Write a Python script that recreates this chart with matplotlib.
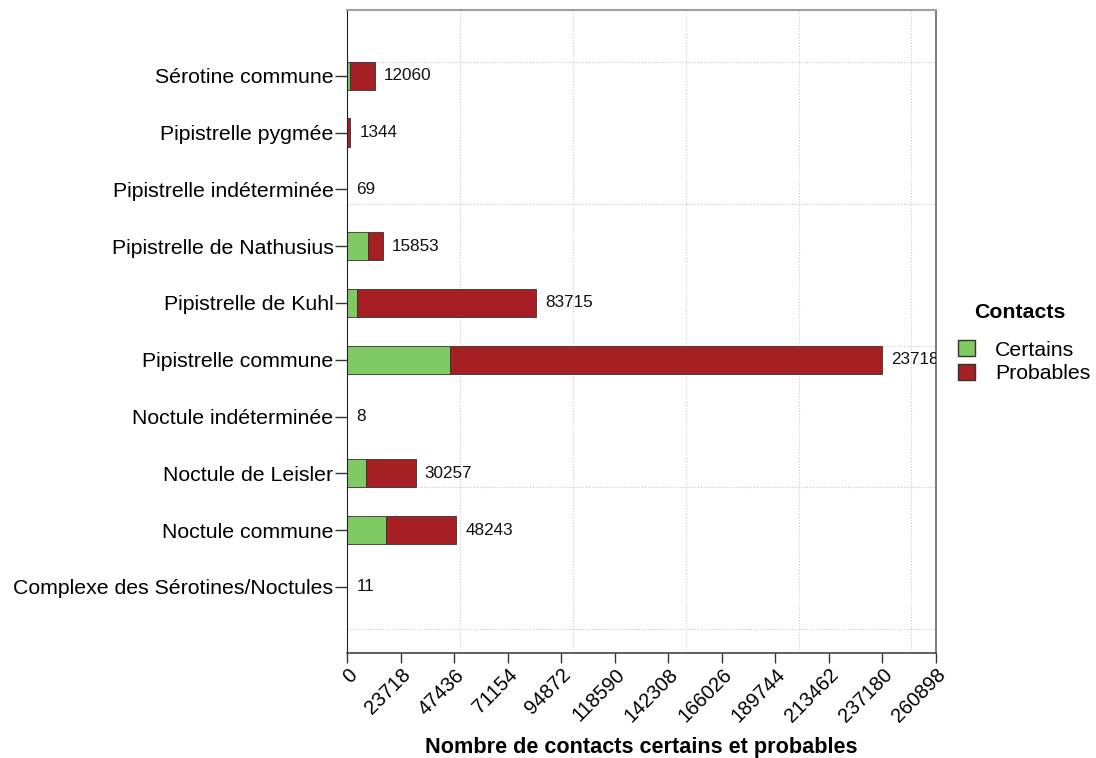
import matplotlib
matplotlib.use('Agg')
import matplotlib.pyplot as plt
from matplotlib.patches import Patch

plt.rcParams['font.family'] = ['Liberation Sans', 'DejaVu Sans']

# data (bottom -> top)
especes = ['Complexe des Sérotines/Noctules', 'Noctule commune', 'Noctule de Leisler',
           'Noctule indéterminée', 'Pipistrelle commune', 'Pipistrelle de Kuhl',
           'Pipistrelle de Nathusius', 'Pipistrelle indéterminée', 'Pipistrelle pygmée',
           'Sérotine commune']
totaux = [11, 48243, 30257, 8, 237180, 83715, 15853, 69, 1344, 12060]
certains = [5, 17020, 8290, 3, 45700, 4430, 9040, 20, 60, 1100]
probables = [t - c for t, c in zip(totaux, certains)]

pas = 23718
ticks_x = [pas * i for i in range(12)]
grille_x = [0, 50000, 100000, 150000, 200000, 250000]
grille_y = [0.25, 2.75, 5.25, 7.75, 10.25]

vert = '#7fca62'
rouge = '#a61f25'

fig = plt.figure(figsize=(10.96, 7.58), dpi=100)
ax = fig.add_axes([0.3169, 0.1389, 0.5371, 0.8479])

y = list(range(1, len(especes) + 1))

for g in grille_x:
    ax.axvline(g, color='#c8c8c8', lw=0.8, ls=':', zorder=0)
for g in grille_y:
    ax.axhline(g, color='#c8c8c8', lw=0.8, ls=':', zorder=0)

ax.barh(y, certains, height=0.5, color=vert, edgecolor='#333333', lw=0.6, zorder=2)
ax.barh(y, probables, left=certains, height=0.5, color=rouge, edgecolor='#333333', lw=0.6, zorder=2)

for yi, t in zip(y, totaux):
    ax.text(t + 4000, yi, str(t), ha='left', va='center', fontsize=12.3, color='#111111',
            clip_on=True, zorder=3)

ax.set_xlim(0, 260898)
ax.set_ylim(-0.16, 11.16)
ax.set_xticks(ticks_x)
ax.set_xticklabels([str(t) for t in ticks_x], rotation=45, ha='right',
                   rotation_mode='anchor', fontsize=14.5)
ax.set_yticks(y)
ax.set_yticklabels(especes, fontsize=15.3)
ax.tick_params(axis='y', length=9, width=1, color='#333333', pad=1)
ax.tick_params(axis='x', length=7, width=1, color='#333333', pad=2)

ax.spines['left'].set_color('#222222')
ax.spines['bottom'].set_color('#444444')
ax.spines['bottom'].set_linewidth(1.2)
ax.spines['top'].set_color('#a0a0a0')
ax.spines['top'].set_linewidth(1.5)
ax.spines['right'].set_color('#666666')
ax.spines['right'].set_linewidth(1.2)

fig.text(641 / 1096, 1 - 747 / 758, 'Nombre de contacts certains et probables',
         ha='center', va='center', fontsize=15.6, fontweight='bold')

fig.text(1020 / 1096, 1 - 313 / 758, 'Contacts', ha='center', va='center',
         fontsize=15.3, fontweight='bold')
handles = [Patch(facecolor=vert, edgecolor='#333333', label='Certains'),
           Patch(facecolor=rouge, edgecolor='#333333', label='Probables')]
leg = fig.legend(handles=handles, loc='upper left',
                 bbox_to_anchor=(958 / 1096, 1 - 340 / 758), frameon=False, fontsize=15.3,
                 handlelength=0.8, handleheight=0.8, handletextpad=0.95,
                 labelspacing=0.2, borderpad=0, borderaxespad=0)

fig.savefig('out.png', dpi=100)
